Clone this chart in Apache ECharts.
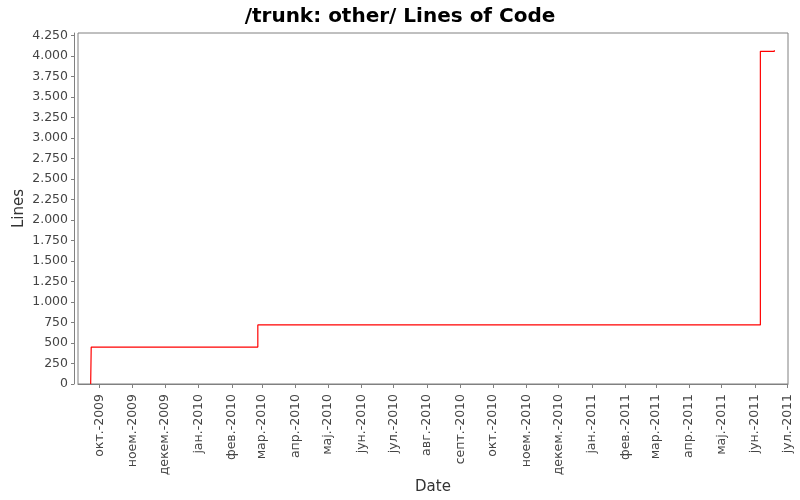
<!DOCTYPE html>
<html>
<head>
<meta charset="utf-8">
<script src="https://cdn.jsdelivr.net/npm/echarts@6/dist/echarts.min.js"></script>
<style>html,body{margin:0;padding:0;background:#fff}#c{width:800px;height:500px}</style>
</head>
<body>
<div id="c"></div>
<script>
// Data (dates UTC)
const pointDates = ['2009-09-23T00:00:00Z','2009-09-23T12:00:00Z','2010-02-25T00:00:00Z','2011-06-06T00:00:00Z','2011-06-19T00:00:00Z'];
const pointValues = [0, 450, 720, 4057, 4070];
const xTickDates = ['2009-10-01','2009-11-01','2009-12-01','2010-01-01','2010-02-01','2010-03-01','2010-04-01','2010-05-01','2010-06-01','2010-07-01','2010-08-01','2010-09-01','2010-10-01','2010-11-01','2010-12-01','2011-01-01','2011-02-01','2011-03-01','2011-04-01','2011-05-01','2011-06-01','2011-07-01'];
const monthNames = ['јан.','фев.','мар.','апр.','мај.','јун.','јул.','авг.','септ.','окт.','ноем.','декем.'];
const yTicks = [0,250,500,750,1000,1250,1500,1750,2000,2250,2500,2750,3000,3250,3500,3750,4000,4250];
const xMin = Date.UTC(2009, 8, 11, 6);
const xMax = Date.UTC(2011, 6, 1, 15);
const yMax = 4280;

const xTicks = xTickDates.map(d => Date.parse(d + 'T00:00:00Z'));
const seriesData = pointDates.map((d, i) => [Date.parse(d), pointValues[i]]);

const font = 'DejaVu Sans';
const chart = echarts.init(document.getElementById('c'), null, {renderer: 'canvas'});
chart.setOption({
  animation: false,
  backgroundColor: '#ffffff',
  title: {
    text: '/trunk: other/ Lines of Code',
    left: 'center', top: 2,
    textStyle: {fontFamily: font, fontSize: 20, fontWeight: 'bold', color: '#000'}
  },
  grid: {left: 78, right: 12, top: 33, bottom: 116, show: true, borderColor: '#808080', borderWidth: 1, backgroundColor: '#fff', containLabel: false, outerBoundsMode: 'none'},
  xAxis: {
    type: 'value', min: xMin, max: xMax, offset: 4, scale: true,
    name: 'Date', nameLocation: 'middle', nameGap: 92, nameMoveOverlap: false,
    nameTextStyle: {fontFamily: font, fontSize: 15, color: '#333'},
    axisLine: {show: true, lineStyle: {color: '#808080'}},
    axisTick: {show: true, length: 4, lineStyle: {color: '#808080'}, customValues: xTicks},
    splitLine: {show: false},
    axisLabel: {
      customValues: xTicks, rotate: 90, margin: 6,
      fontFamily: font, fontSize: 12.5, color: '#444',
      formatter: function (v) { const d = new Date(v); return monthNames[d.getUTCMonth()] + '-' + d.getUTCFullYear(); }
    }
  },
  yAxis: {
    type: 'value', min: 0, max: yMax, offset: 4,
    name: 'Lines', nameLocation: 'middle', nameGap: 47, nameMoveOverlap: false,
    nameTextStyle: {fontFamily: font, fontSize: 15, color: '#333'},
    axisLine: {show: true, lineStyle: {color: '#808080'}},
    axisTick: {show: true, length: 3, lineStyle: {color: '#808080'}, customValues: yTicks},
    splitLine: {show: false},
    axisLabel: {
      customValues: yTicks, margin: 6,
      fontFamily: font, fontSize: 12.5, color: '#444',
      formatter: function (v) { return String(v).replace(/\B(?=(\d{3})+(?!\d))/g, '.'); }
    }
  },
  series: [{
    type: 'line', step: 'end', data: seriesData, showSymbol: false,
    lineStyle: {color: '#ff0000', width: 1.2}, itemStyle: {color: '#ff0000'}
  }]
});
</script>
</body>
</html>
